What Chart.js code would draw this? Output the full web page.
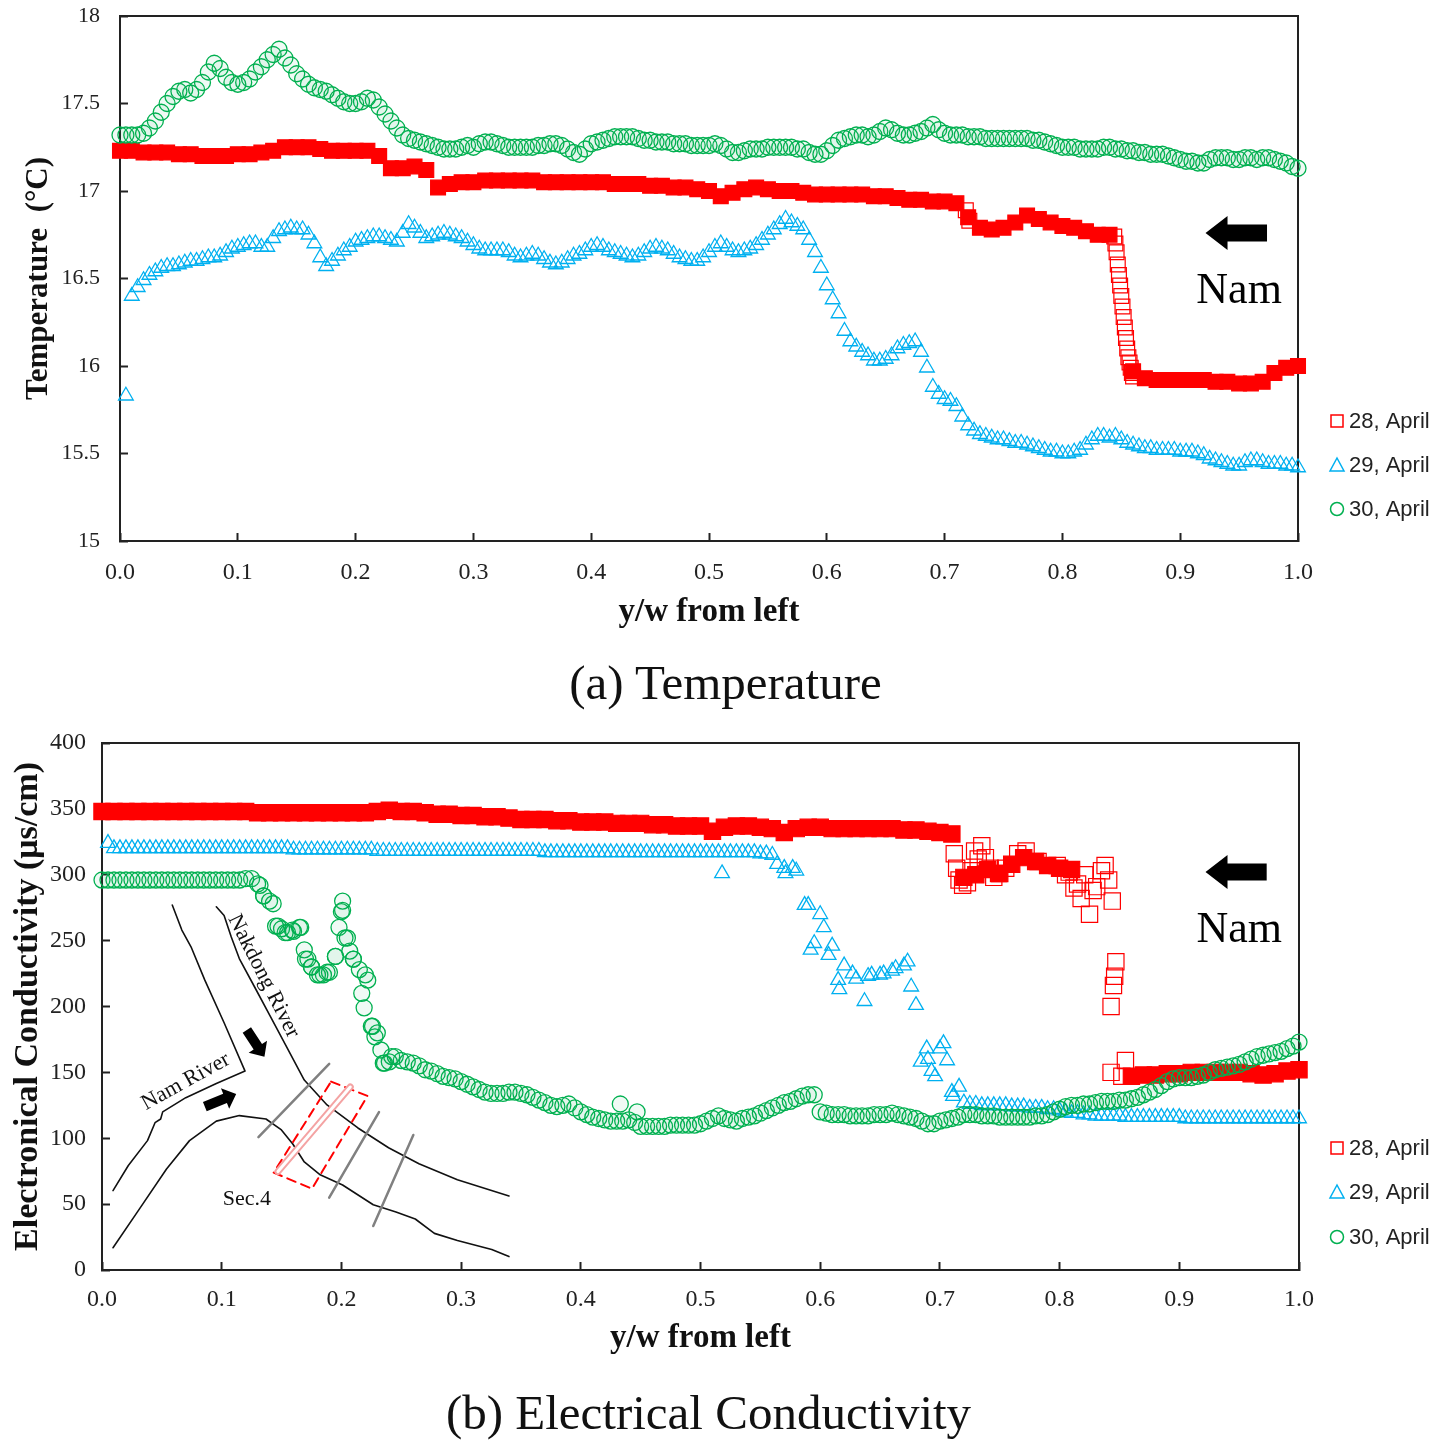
<!DOCTYPE html>
<html>
<head>
<meta charset="utf-8">
<script src="https://cdn.jsdelivr.net/npm/chart.js@4.4.0/dist/chart.umd.min.js"></script>
<style>
  html, body { margin: 0; padding: 0; background: #fff; }
  body { width: 1451px; height: 1449px; position: relative; overflow: hidden; }
  .panel { position: absolute; left: 0; width: 1451px; height: 640px; }
  .caption { position: absolute; font-family: 'Liberation Serif', 'Times New Roman', serif; font-size: 49px; line-height: 56px; text-align: center; color: #111; }
</style>
</head>
<body>
<div class="panel" style="top:0"><canvas id="tempChart"></canvas></div>
<div class="caption" style="top:655px;left:0;width:1451px">(a) Temperature</div>
<div class="panel" style="top:720px"><canvas id="ecChart"></canvas></div>
<div class="caption" style="top:1385px;left:0;width:1417px">(b) Electrical Conductivity</div>
<script>
// measuring positions across the section (y/w from left bank)
const ywGrid = [
  0.00, 0.01, 0.02, 0.03, 0.04, 0.05, 0.06, 0.07, 0.08, 0.09,
  0.10, 0.11, 0.12, 0.13, 0.14, 0.15, 0.16, 0.17, 0.18, 0.19,
  0.20, 0.21, 0.22, 0.23, 0.24, 0.25, 0.26, 0.27, 0.28, 0.29,
  0.30, 0.31, 0.32, 0.33, 0.34, 0.35, 0.36, 0.37, 0.38, 0.39,
  0.40, 0.41, 0.42, 0.43, 0.44, 0.45, 0.46, 0.47, 0.48, 0.49,
  0.50, 0.51, 0.52, 0.53, 0.54, 0.55, 0.56, 0.57, 0.58, 0.59,
  0.60, 0.61, 0.62, 0.63, 0.64, 0.65, 0.66, 0.67, 0.68, 0.69,
  0.70, 0.71, 0.72, 0.73, 0.74, 0.75, 0.76, 0.77, 0.78, 0.79,
  0.80, 0.81, 0.82, 0.83, 0.84, 0.85, 0.86, 0.87, 0.88, 0.89,
  0.90, 0.91, 0.92, 0.93, 0.94, 0.95, 0.96, 0.97, 0.98, 0.99,
  1.00
];
// in-between positions, read where the markers are packed densely
const ywHalf = [
  0.005, 0.015, 0.025, 0.035, 0.045, 0.055, 0.065, 0.075, 0.085, 0.095,
  0.105, 0.115, 0.125, 0.135, 0.145, 0.155, 0.165, 0.175, 0.185, 0.195,
  0.205, 0.215, 0.225, 0.235, 0.245, 0.255, 0.265, 0.275, 0.285, 0.295,
  0.305, 0.315, 0.325, 0.335, 0.345, 0.355, 0.365, 0.375, 0.385, 0.395,
  0.405, 0.415, 0.425, 0.435, 0.445, 0.455, 0.465, 0.475, 0.485, 0.495,
  0.505, 0.515, 0.525, 0.535, 0.545, 0.555, 0.565, 0.575, 0.585, 0.595,
  0.605, 0.615, 0.625, 0.635, 0.645, 0.655, 0.665, 0.675, 0.685, 0.695,
  0.705, 0.715, 0.725, 0.735, 0.745, 0.755, 0.765, 0.775, 0.785, 0.795,
  0.805, 0.815, 0.825, 0.835, 0.845, 0.855, 0.865, 0.875, 0.885, 0.895,
  0.905, 0.915, 0.925, 0.935, 0.945, 0.955, 0.965, 0.975, 0.985, 0.995
];

const seriesLabels = ['28, April', '29, April', '30, April'];

// (a) temperature, degC
const temp28 = [
  17.23, 17.23, 17.22, 17.22, 17.22, 17.21, 17.21, 17.20, 17.20, 17.20,
  17.21, 17.21, 17.22, 17.23, 17.25, 17.25, 17.25, 17.24, 17.23, 17.23,
  17.23, 17.23, 17.20, 17.13, 17.13, 17.14, 17.12, 17.02, 17.04, 17.05,
  17.05, 17.06, 17.06, 17.06, 17.06, 17.06, 17.05, 17.05, 17.05, 17.05,
  17.05, 17.05, 17.04, 17.04, 17.04, 17.03, 17.03, 17.02, 17.02, 17.01,
  17.00, 16.97, 16.99, 17.01, 17.02, 17.01, 17.00, 17.00, 16.99, 16.98,
  16.98, 16.98, 16.98, 16.98, 16.97, 16.97, 16.96, 16.95, 16.95, 16.94,
  16.94, 16.93, 16.85, 16.79, 16.78, 16.79, 16.82, 16.86, 16.84, 16.82,
  16.80, 16.79, 16.77, 16.75, 16.75, null, 15.97, 15.93, 15.92, 15.92,
  15.92, 15.92, 15.92, 15.91, 15.91, 15.90, 15.90, 15.91, 15.96, 15.99,
  16.00
];
const temp28SparseX = [0.718, 0.721, 0.844, 0.845, 0.846, 0.847, 0.848, 0.849, 0.850, 0.851,
  0.852, 0.853, 0.854, 0.855, 0.856, 0.857, 0.858, 0.859, 0.860];
const temp28SparseY = [16.89, 16.83, 16.74, 16.70, 16.65, 16.58, 16.52, 16.46, 16.40, 16.34,
  16.28, 16.22, 16.16, 16.10, 16.05, 16.02, 15.99, 15.96, 15.94];

const temp29 = [
  null, 16.40, 16.49, 16.54, 16.57, 16.58, 16.60, 16.61, 16.62, 16.65,
  16.68, 16.70, 16.68, 16.73, 16.78, 16.78, 16.75, 16.62, 16.60, 16.66,
  16.71, 16.73, 16.74, 16.72, 16.76, 16.79, 16.73, 16.75, 16.75, 16.73,
  16.69, 16.66, 16.66, 16.65, 16.62, 16.64, 16.61, 16.58, 16.61, 16.64,
  16.68, 16.68, 16.65, 16.63, 16.63, 16.67, 16.67, 16.64, 16.61, 16.60,
  16.65, 16.70, 16.66, 16.66, 16.69, 16.75, 16.81, 16.82, 16.78, 16.65,
  16.46, 16.30, 16.14, 16.08, 16.03, 16.04, 16.10, 16.13, 16.08, 15.88,
  15.81, 15.77, 15.66, 15.61, 15.59, 15.58, 15.56, 15.55, 15.53, 15.51,
  15.50, 15.51, 15.55, 15.60, 15.59, 15.58, 15.55, 15.53, 15.52, 15.52,
  15.51, 15.51, 15.49, 15.46, 15.44, 15.43, 15.46, 15.45, 15.44, 15.43,
  15.42
];
const temp29Half = [
  15.83, 16.45, 16.52, 16.56, 16.57, 16.59, 16.60, 16.62, 16.63, 16.67,
  16.69, 16.70, 16.68, 16.77, 16.79, 16.78, 16.70, 16.57, 16.63, 16.68,
  16.72, 16.74, 16.73, 16.71, 16.81, 16.76, 16.74, 16.76, 16.74, 16.71,
  16.67, 16.66, 16.66, 16.63, 16.63, 16.63, 16.59, 16.59, 16.63, 16.66,
  16.69, 16.66, 16.64, 16.62, 16.65, 16.68, 16.66, 16.62, 16.60, 16.62,
  16.68, 16.68, 16.65, 16.67, 16.72, 16.78, 16.84, 16.80, 16.72, 16.56,
  16.38, 16.20, 16.11, 16.06, 16.03, 16.06, 16.12, 16.14, 15.99, 15.84,
  15.80, 15.71, 15.63, 15.60, 15.58, 15.57, 15.56, 15.54, 15.52, 15.51,
  15.50, 15.52, 15.58, 15.60, 15.60, 15.56, 15.54, 15.53, 15.52, 15.52,
  15.51, 15.50, 15.47, 15.45, 15.43, 15.45, 15.46, 15.44, 15.44, 15.43
];

const temp30 = [
  17.32, 17.32, 17.33, 17.40, 17.50, 17.57, 17.56, 17.62, 17.73, 17.65,
  17.61, 17.64, 17.71, 17.78, 17.76, 17.67, 17.61, 17.58, 17.55, 17.51,
  17.50, 17.53, 17.48, 17.40, 17.32, 17.29, 17.27, 17.25, 17.24, 17.25,
  17.25, 17.28, 17.27, 17.25, 17.25, 17.25, 17.26, 17.27, 17.24, 17.21,
  17.27, 17.29, 17.31, 17.31, 17.30, 17.29, 17.28, 17.27, 17.27, 17.26,
  17.26, 17.26, 17.22, 17.23, 17.24, 17.25, 17.25, 17.25, 17.24, 17.21,
  17.23, 17.29, 17.31, 17.32, 17.32, 17.36, 17.33, 17.32, 17.34, 17.38,
  17.33, 17.32, 17.31, 17.31, 17.30, 17.30, 17.30, 17.30, 17.29, 17.27,
  17.25, 17.25, 17.24, 17.24, 17.25, 17.24, 17.23, 17.22, 17.21, 17.20,
  17.18, 17.17, 17.16, 17.19, 17.19, 17.18, 17.19, 17.19, 17.18, 17.16,
  17.13
];
const temp30Half = [
  17.32, 17.32, 17.36, 17.45, 17.54, 17.58, 17.58, 17.68, 17.70, 17.62,
  17.62, 17.68, 17.75, 17.81, 17.72, 17.64, 17.59, 17.57, 17.53, 17.50,
  17.51, 17.52, 17.44, 17.36, 17.30, 17.28, 17.26, 17.24, 17.24, 17.26,
  17.27, 17.28, 17.26, 17.25, 17.25, 17.26, 17.27, 17.26, 17.22, 17.24,
  17.28, 17.30, 17.31, 17.31, 17.29, 17.28, 17.28, 17.27, 17.26, 17.26,
  17.27, 17.24, 17.22, 17.24, 17.24, 17.25, 17.25, 17.24, 17.22, 17.21,
  17.26, 17.30, 17.32, 17.31, 17.34, 17.35, 17.32, 17.33, 17.36, 17.35,
  17.32, 17.32, 17.31, 17.30, 17.30, 17.30, 17.30, 17.29, 17.28, 17.26,
  17.25, 17.24, 17.24, 17.25, 17.24, 17.23, 17.22, 17.21, 17.21, 17.19,
  17.17, 17.16, 17.18, 17.19, 17.18, 17.19, 17.18, 17.19, 17.17, 17.14
];

// (b) electrical conductivity, uS/cm
const ec28 = [
  348, 348, 348, 348, 348, 348, 348, 348, 348, 348,
  348, 348, 348, 347, 347, 347, 347, 347, 347, 347,
  347, 347, 347, 348, 349, 348, 348, 347, 346, 346,
  345, 345, 344, 344, 343, 342, 342, 342, 341, 341,
  340, 340, 340, 339, 339, 339, 338, 338, 337, 337,
  337, 333, 336, 337, 337, 336, 335, 332, 335, 336,
  336, 335, 335, 335, 335, 335, 335, 334, 334, 333,
  332, 331, 298, 300, 304, 301, 308, 313, 310, 307,
  305, 304, null, null, null, null, 147, 148, 148, 149,
  149, 150, 150, 150, 150, 150, 149, 148, 149, 151,
  152
];
const ec28SparseX = [0.712, 0.714, 0.716, 0.719, 0.723, 0.726, 0.729, 0.732, 0.735, 0.738,
  0.742, 0.745, 0.749, 0.755, 0.765, 0.772, 0.782, 0.798, 0.805, 0.808,
  0.812, 0.815, 0.818, 0.821, 0.825, 0.828, 0.831, 0.835, 0.838, 0.841,
  0.844, 0.843, 0.845, 0.846, 0.847, 0.843, 0.852, 0.855];
const ec28SparseY = [316, 305, 296, 292, 294, 303, 318, 312, 322, 313,
  305, 298, 301, 305, 316, 318, 310, 307, 300, 302,
  290, 293, 282, 300, 270, 288, 291, 303, 307, 296,
  280, 200, 216, 223, 234, 150, 147, 159];

const ec29 = [
  null, 320, 320, 320, 320, 320, 320, 320, 320, 320,
  320, 320, 320, 320, 320, 320, 319, 319, 319, 319,
  319, 319, 319, 318, 318, 318, 318, 318, 318, 318,
  318, 318, 318, 318, 318, 318, 318, 317, 317, 317,
  317, 317, 317, 317, 317, 317, 317, 317, 317, 317,
  317, 317, 317, 317, 317, 316, 315, 305, 303, 277,
  270, 246, 231, 221, 223, 224, 227, 231, 201, 160,
  168, 135, 127, 126, 125, 125, 124, 124, 123, 122,
  121, 119, 118, 117, 117, 117, 116, 116, 116, 116,
  116, 115, 115, 115, 115, 115, 115, 115, 115, 115,
  115
];
const ec29Half = [
  324, 320, 320, 320, 320, 320, 320, 320, 320, 320,
  320, 320, 320, 320, 320, 320, 319, 319, 319, 319,
  319, 319, 319, 318, 318, 318, 318, 318, 318, 318,
  318, 318, 318, 318, 318, 318, 318, 317, 317, 317,
  317, 317, 317, 317, 317, 317, 317, 317, 317, 317,
  317, 317, 317, 317, 317, 316, null, null, null, null,
  null, null, null, null, null, null, null, null, null, null,
  null, null, 126, 125, 125, 125, 124, 123, 123, 122,
  120, 119, 118, 117, 117, 116, 116, 116, 116, 116,
  115, 115, 115, 115, 115, 115, 115, 115, 115, 115
];
const ec29SparseX = [0.518, 0.564, 0.571, 0.577, 0.587, 0.592, 0.595, 0.603, 0.607,
  0.615, 0.616, 0.627, 0.637, 0.643, 0.653, 0.663, 0.673, 0.676, 0.684,
  0.689, 0.693, 0.696, 0.703, 0.706, 0.711, 0.716];
const ec29SparseY = [301, 308, 301, 305, 277, 243, 248, 260, 239,
  220, 213, 225, 204, 224, 225, 229, 234, 215, 158,
  168, 151, 147, 172, 159, 132, 139];

const ec30 = [
  296, 296, 296, 296, 296, 296, 296, 296, 296, 296,
  296, 296, 297, 293, 280, 259, 257, 236, 224, 226,
  272, 236, 224, 180, 158, 159, 157, 152, 149, 146,
  143, 139, 135, 134, 135, 134, 131, 127, 124, 126,
  120, 116, 114, 113, 114, 109, 109, 109, 110, 110,
  111, 115, 115, 113, 116, 119, 123, 127, 130, 133,
  120, 118, 118, 117, 117, 118, 119, 117, 115, 111,
  113, 115, 118, 118, 117, 116, 116, 116, 117, 118,
  122, 125, 126, 127, 128, 129, 130, 133, 137, 143,
  146, 146, 148, 152, 154, 156, 160, 163, 165, 168,
  173
];
const ec30Half = [
  296, 296, 296, 296, 296, 296, 296, 296, 296, 296,
  296, 296, 297, 284, 261, 256, 260, 230, 224, 238,
  252, 228, 185, 157, 162, 158, 155, 151, 147, 145,
  141, 137, 134, 134, 135, 133, 129, 125, 125, 123,
  118, 115, 113, 113, 112, 109, 109, 110, 110, 110,
  113, 117, 114, 115, 117, 121, 125, 128, 132, 133,
  119, 118, 117, 117, 118, 118, 118, 116, 113, 111,
  114, 116, 118, 117, 117, 116, 116, 116, 117, 120,
  124, 125, 126, 128, 128, 129, 131, 135, 140, 145,
  146, 147, 150, 153, 155, 158, 162, 164, 166, 170
];
const ec30SparseX = [0.132, 0.135, 0.143, 0.147, 0.153, 0.159, 0.166, 0.169, 0.172, 0.175,
  0.182, 0.188, 0.195, 0.198, 0.201, 0.201, 0.203, 0.207, 0.210, 0.217,
  0.219, 0.222, 0.226, 0.228, 0.233, 0.236, 0.242, 0.433, 0.447];
const ec30SparseY = [292, 284, 278, 261, 256, 258, 260, 243, 236, 230,
  224, 226, 238, 260, 280, 273, 252, 242, 236, 210,
  199, 220, 185, 177, 167, 157, 162, 126, 120];

// site sketch inset, in plot units (y/w, uS/cm)
const bankNamNorthX = [0.0587, 0.0667, 0.0747, 0.0859, 0.102, 0.1195, 0.0955, 0.070, 0.0507, 0.049, 0.0443, 0.038, 0.022, 0.0092];
const bankNamNorthY = [277, 258, 244.6, 220, 187.7, 151, 141.6, 130.8, 120, 114.6, 111.8, 98.2, 79.3, 60.3];
const bankNakdongX = [0.0955, 0.102, 0.108, 0.1147, 0.1275, 0.1403, 0.153, 0.169, 0.188, 0.2138, 0.2394, 0.2648, 0.2969, 0.340];
const bankNakdongY = [275.7, 269, 252.7, 236.4, 214.8, 193, 171.5, 144.2, 125.3, 107.8, 92.8, 80.6, 68.5, 56.2];
const bankSouthX = [0.0092, 0.0316, 0.0539, 0.0731, 0.0955, 0.1147, 0.137, 0.1499, 0.1594, 0.169, 0.1818, 0.201, 0.2266, 0.2456, 0.2617, 0.2777, 0.2969, 0.3256, 0.340];
const bankSouthY = [16.9, 46.8, 76.7, 98.2, 113, 117.2, 114.6, 106.3, 95.6, 82, 72.5, 64.5, 49.5, 44, 38.7, 27.8, 22.4, 15.6, 10.2];
const sectionLines = [[0.1307, 100.9, 0.1898, 156.5], [0.1898, 54.9, 0.2314, 119.9], [0.2266, 33.4, 0.2601, 102.5]];
const sec4BoxX = [0.1914, 0.2218, 0.1754, 0.1434];
const sec4BoxY = [143, 132.1, 61.7, 73.9];
const sec4Transect = [0.2074, 138.9, 0.1470, 74.7];
const flowArrows = [[0.121, 182.2, 0.1357, 161.9], [0.0859, 124, 0.1121, 133.6]];

const SERIF = "'Liberation Serif', 'Times New Roman', serif";
const NARROW = "'Liberation Sans Narrow', 'Arial Narrow', 'Liberation Sans', sans-serif";
const RED = '#ff0000', BLUE = '#00b0f0', GREEN = '#00b050';

function pairUp(xs, ys) {
  return xs.map((x, i) => ({ x: x, y: ys[i] }));
}

function buildDatasets(s28, s29, s30, sq) {
  const band28 = pairUp(ywGrid, s28[0]);
  return [
    {
      label: seriesLabels[0],
      data: band28.concat(pairUp(s28[1], s28[2])),
      pointStyle: 'rect', pointRadius: sq, pointBorderWidth: 1.2,
      pointBorderColor: RED,
      // the packed run of squares reads as a solid band, stray points stay open
      pointBackgroundColor: ctx => ctx.dataIndex < band28.length ? RED : 'rgba(255,255,255,0)',
      order: 3, clip: false
    },
    {
      label: seriesLabels[1],
      data: pairUp(ywGrid, s29[0]).concat(pairUp(ywHalf, s29[1]), pairUp(s29[2], s29[3])),
      pointStyle: 'triangle', pointRadius: 8.5, pointBorderWidth: 1.3,
      pointBorderColor: BLUE, pointBackgroundColor: 'rgba(255,255,255,0)',
      order: 2, clip: false
    },
    {
      label: seriesLabels[2],
      data: pairUp(ywGrid, s30[0]).concat(pairUp(ywHalf, s30[1]), pairUp(s30[2], s30[3])),
      pointStyle: 'circle', pointRadius: 8, pointBorderWidth: 1.3,
      pointBorderColor: GREEN, pointBackgroundColor: 'rgba(0,176,80,0.06)',
      order: 1, clip: false
    }
  ];
}

function xAxis(labelPad, titlePad, boxHeight) {
  return {
    type: 'linear', min: 0, max: 1,
    ticks: {
      stepSize: 0.1, autoSkip: false, maxRotation: 0, padding: labelPad, color: '#222',
      font: { family: SERIF, size: 24 },
      callback: v => v.toFixed(1)
    },
    grid: { drawOnChartArea: false, drawTicks: true, tickLength: -8, tickWidth: 2, tickColor: '#222' },
    border: { display: true, color: '#222', width: 2 },
    title: {
      display: true, text: 'y/w from left', color: '#111',
      font: { family: SERIF, size: 33, weight: 'bold' },
      padding: { top: 0, bottom: titlePad }
    },
    afterFit: s => { s.height = boxHeight; s.paddingLeft = 0; s.paddingRight = 0; }
  };
}

function yAxis(min, max, step, title, titleSize, titlePad, labelSize, labelPad, boxWidth) {
  return {
    type: 'linear', min: min, max: max,
    ticks: {
      stepSize: step, autoSkip: false, padding: labelPad, color: '#222',
      font: { family: SERIF, size: labelSize },
      callback: v => String(v)
    },
    grid: { drawOnChartArea: false, drawTicks: true, tickLength: -8, tickWidth: 2, tickColor: '#222' },
    border: { display: true, color: '#222', width: 2 },
    title: {
      display: true, text: title, color: '#111',
      font: { family: SERIF, size: titleSize, weight: 'bold' },
      padding: { top: titlePad, bottom: 0 }
    },
    afterFit: s => { s.width = boxWidth; s.paddingTop = 0; s.paddingBottom = 0; }
  };
}

const plotFrame = {
  id: 'plotFrame',
  beforeDatasetsDraw(chart) {
    const { ctx, chartArea: a } = chart;
    ctx.save();
    ctx.strokeStyle = '#222';
    ctx.lineWidth = 2;
    ctx.strokeRect(a.left, a.top, a.right - a.left, a.bottom - a.top);
    ctx.restore();
  }
};

function drawKeyMarker(ctx, style, x, y, color) {
  ctx.save();
  ctx.strokeStyle = color;
  ctx.lineWidth = 1.5;
  ctx.beginPath();
  if (style === 'rect') {
    ctx.rect(x - 6, y - 6, 12, 12);
  } else if (style === 'triangle') {
    ctx.moveTo(x, y - 7);
    ctx.lineTo(x + 7, y + 6);
    ctx.lineTo(x - 7, y + 6);
    ctx.closePath();
  } else {
    ctx.arc(x, y, 6.5, 0, Math.PI * 2);
  }
  ctx.stroke();
  ctx.restore();
}

const seriesKey = {
  id: 'seriesKey',
  afterDraw(chart, args, opts) {
    const ctx = chart.ctx;
    chart.data.datasets.forEach((ds, i) => {
      const y = opts.rows[i];
      drawKeyMarker(ctx, ds.pointStyle, opts.markerX, y, ds.pointBorderColor);
      ctx.save();
      ctx.fillStyle = '#222';
      ctx.font = '22px ' + NARROW;
      ctx.textAlign = 'left';
      ctx.textBaseline = 'middle';
      ctx.fillText(ds.label, opts.textX, y + 1);
      ctx.restore();
    });
  }
};

const namMarker = {
  id: 'namMarker',
  afterDatasetsDraw(chart, args, opts) {
    const { ctx, scales } = chart;
    const tip = scales.x.getPixelForValue(opts.tipX);
    const tail = scales.x.getPixelForValue(opts.tailX);
    const ay = scales.y.getPixelForValue(opts.arrowY);
    ctx.save();
    ctx.fillStyle = '#000';
    ctx.beginPath();
    ctx.moveTo(tip, ay);
    ctx.lineTo(tip + 22, ay - 17);
    ctx.lineTo(tip + 22, ay - 8.5);
    ctx.lineTo(tail, ay - 8.5);
    ctx.lineTo(tail, ay + 8.5);
    ctx.lineTo(tip + 22, ay + 8.5);
    ctx.lineTo(tip + 22, ay + 17);
    ctx.closePath();
    ctx.fill();
    ctx.font = '44px ' + SERIF;
    ctx.textAlign = 'center';
    ctx.textBaseline = 'alphabetic';
    ctx.fillText('Nam', scales.x.getPixelForValue(opts.textX), scales.y.getPixelForValue(opts.textY));
    ctx.restore();
  }
};

const siteSketch = {
  id: 'siteSketch',
  beforeDatasetsDraw(chart) {
    const { ctx, scales } = chart;
    const px = v => scales.x.getPixelForValue(v);
    const py = v => scales.y.getPixelForValue(v);
    const poly = (xs, ys, close) => {
      ctx.beginPath();
      xs.forEach((x, i) => i ? ctx.lineTo(px(x), py(ys[i])) : ctx.moveTo(px(x), py(ys[i])));
      if (close) ctx.closePath();
      ctx.stroke();
    };
    ctx.save();
    ctx.lineJoin = 'round';
    ctx.lineCap = 'round';
    // river banks
    ctx.strokeStyle = '#111';
    ctx.lineWidth = 1.6;
    poly(bankNamNorthX, bankNamNorthY);
    poly(bankNakdongX, bankNakdongY);
    poly(bankSouthX, bankSouthY);
    // measuring sections
    ctx.strokeStyle = '#808080';
    ctx.lineWidth = 2.5;
    sectionLines.forEach(s => poly([s[0], s[2]], [s[1], s[3]]));
    // Sec.4 box and transect
    ctx.strokeStyle = RED;
    ctx.lineWidth = 2;
    ctx.setLineDash([9, 6]);
    poly(sec4BoxX, sec4BoxY, true);
    ctx.setLineDash([]);
    ctx.strokeStyle = '#f4a3a3';
    ctx.lineWidth = 7;
    poly([sec4Transect[0], sec4Transect[2]], [sec4Transect[1], sec4Transect[3]]);
    ctx.strokeStyle = '#fff';
    ctx.lineWidth = 3;
    poly([sec4Transect[0], sec4Transect[2]], [sec4Transect[1], sec4Transect[3]]);
    // flow arrows
    ctx.fillStyle = '#000';
    flowArrows.forEach(f => {
      const x0 = px(f[0]), y0 = py(f[1]), x1 = px(f[2]), y1 = py(f[3]);
      const len = Math.hypot(x1 - x0, y1 - y0);
      ctx.save();
      ctx.translate(x0, y0);
      ctx.rotate(Math.atan2(y1 - y0, x1 - x0));
      ctx.beginPath();
      ctx.moveTo(0, -5);
      ctx.lineTo(len - 12, -5);
      ctx.lineTo(len - 12, -11);
      ctx.lineTo(len, 0);
      ctx.lineTo(len - 12, 11);
      ctx.lineTo(len - 12, 5);
      ctx.lineTo(0, 5);
      ctx.closePath();
      ctx.fill();
      ctx.restore();
    });
    // labels
    ctx.fillStyle = '#111';
    ctx.font = '22px ' + SERIF;
    ctx.textAlign = 'center';
    ctx.textBaseline = 'middle';
    [['Nakdong River', 0.135, 223, 63.3], ['Nam River', 0.070, 143, -28.9], ['Sec.4', 0.121, 53.5, 0]].forEach(t => {
      ctx.save();
      ctx.translate(px(t[1]), py(t[2]));
      ctx.rotate(t[3] * Math.PI / 180);
      ctx.fillText(t[0], 0, 0);
      ctx.restore();
    });
    ctx.restore();
  }
};

const common = {
  animation: false,
  responsive: true,
  maintainAspectRatio: false,
  events: []
};

new Chart(document.getElementById('tempChart'), {
  type: 'scatter',
  data: {
    datasets: buildDatasets(
      [temp28, temp28SparseX, temp28SparseY],
      [temp29, temp29Half, [], []],
      [temp30, temp30Half, [], []], 10.5)
  },
  options: Object.assign({}, common, {
    layout: { padding: { top: 16, right: 153, bottom: 0, left: 0 } },
    plugins: {
      legend: { display: false },
      tooltip: { enabled: false },
      seriesKey: { rows: [421, 465, 509], markerX: 1337, textX: 1349 },
      namMarker: { tipX: 0.9215, tailX: 0.9737, arrowY: 16.76, textX: 0.950, textY: 16.36 }
    },
    scales: {
      x: xAxis(25, 8, 99),
      y: yAxis(15, 18, 0.5, 'Temperature  (°C)', 31, 20, 22, 28, 120)
    }
  }),
  plugins: [plotFrame, seriesKey, namMarker]
});

new Chart(document.getElementById('ecChart'), {
  type: 'scatter',
  data: {
    datasets: buildDatasets(
      [ec28, ec28SparseX, ec28SparseY],
      [ec29, ec29Half, ec29SparseX, ec29SparseY],
      [ec30, ec30Half, ec30SparseX, ec30SparseY], 11.5)
  },
  options: Object.assign({}, common, {
    layout: { padding: { top: 23, right: 152, bottom: 0, left: 0 } },
    plugins: {
      legend: { display: false },
      tooltip: { enabled: false },
      seriesKey: { rows: [428, 472, 517], markerX: 1337, textX: 1349 },
      namMarker: { tipX: 0.9219, tailX: 0.973, arrowY: 302, textX: 0.950, textY: 248.6 }
    },
    scales: {
      x: xAxis(23, 2, 90),
      y: yAxis(0, 400, 50, 'Electronical Conductivity (μs/cm)', 34, 8, 24, 24, 102)
    }
  }),
  plugins: [plotFrame, siteSketch, seriesKey, namMarker]
});
</script>
</body>
</html>
